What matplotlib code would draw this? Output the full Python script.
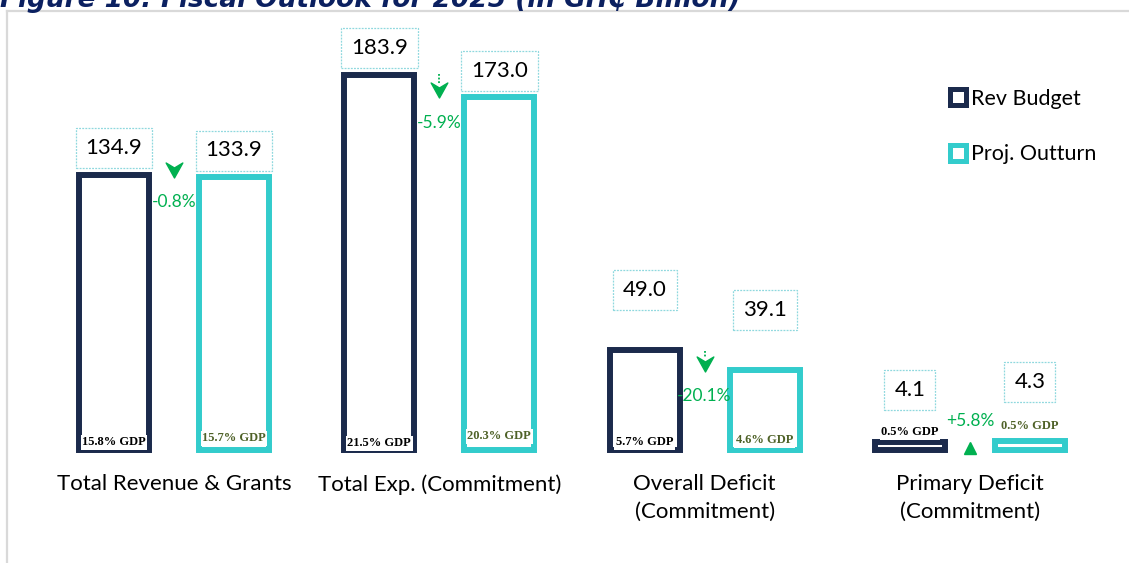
import matplotlib
matplotlib.use("Agg")
import matplotlib.pyplot as plt
from matplotlib.path import Path
from matplotlib.lines import Line2D
import numpy as np

# ---------------- data ----------------
categories = ["Total Revenue & Grants", "Total Exp. (Commitment)",
              "Overall Deficit\n(Commitment)", "Primary Deficit\n(Commitment)"]
rev_budget = [134.9, 183.9, 49.0, 4.1]
proj_outturn = [133.9, 173.0, 39.1, 4.3]
gdp_budget = ["15.8% GDP", "21.5% GDP", "5.7% GDP", "0.5% GDP"]
gdp_outturn = ["15.7% GDP", "20.3% GDP", "4.6% GDP", "0.5% GDP"]
changes = ["-0.8%", "-5.9%", "-20.1%", "+5.8%"]
series_names = ["Rev Budget", "Proj. Outturn"]
title = "Figure 10: Fiscal Outlook for 2025 (in GH\u20b5 Billion)"

# ---------------- style ----------------
NAVY = "#1B2A4C"
CYAN = "#33CCCC"
GREEN = "#00B050"
OLIVE = "#4F6228"
BOXC = "#8FD8DE"
FONT = "Lato"

W, H = 1129, 563
fig = plt.figure(figsize=(W / 100, H / 100), dpi=100)
ax = fig.add_axes([0, 0, 1, 1])

# pixel -> data mapping (layout helpers)
X0, XS = 174.0, 265.3      # group 0 center px, px per group
Y0, YS = 450.0, 2.04       # baseline px, px per unit
def dx(px): return (px - X0) / XS
def dy(py): return (Y0 - py) / YS

ax.set_xlim(dx(0), dx(W))
ax.set_ylim(dy(H), dy(0))
ax.axis("off")

x = np.arange(len(categories))
off = 60 / XS
bw = 70 / XS
lw = 4.3

ax.bar(x - off, rev_budget, width=bw, fill=False, edgecolor=NAVY, linewidth=lw,
       joinstyle="miter", zorder=2)
ax.bar(x + off, proj_outturn, width=bw, fill=False, edgecolor=CYAN, linewidth=lw,
       joinstyle="miter", zorder=2)

# value label boxes (layout: y centre in px)
val_y_px_b = [148, 48, 290, 390]
val_y_px_o = [150.5, 71, 310, 382]
for i in range(len(categories)):
    for xv, v, ypx in ((x[i] - off, rev_budget[i], val_y_px_b[i]),
                       (x[i] + off, proj_outturn[i], val_y_px_o[i])):
        ax.text(xv, dy(ypx), f"{v:.1f}", ha="center", va="center", fontsize=16,
                family=FONT, color="black", zorder=5,
                bbox=dict(boxstyle="square,pad=0.45", fc="white", ec=BOXC,
                          lw=0.9, ls=(0, (1.5, 1))))

# GDP labels (layout: y centre in px)
gdp_y_px_b = [442, 443, 442, 432]
gdp_y_px_o = [438, 436, 440, 426]
for i in range(len(categories)):
    ax.text(x[i] - off, dy(gdp_y_px_b[i]), gdp_budget[i], ha="center", va="center",
            fontsize=9, family="Liberation Serif", weight="bold", color="black",
            zorder=4, bbox=dict(boxstyle="square,pad=0.12", fc="white", ec="none"))
    ax.text(x[i] + off, dy(gdp_y_px_o[i]), gdp_outturn[i], ha="center", va="center",
            fontsize=9, family="Liberation Serif", weight="bold", color=OLIVE,
            zorder=4, bbox=dict(boxstyle="square,pad=0.12", fc="white", ec="none"))

# change annotations
chg_y_px = [202, 123, 396, 421]
for i in range(len(categories)):
    ax.text(x[i], dy(chg_y_px[i]), changes[i], ha="center", va="center",
            fontsize=12.5, family=FONT, color=GREEN, zorder=6)

head = Path([(-1, 0.9), (0, 0.3), (1, 0.9), (0, -0.9), (-1, 0.9)],
            [Path.MOVETO, Path.LINETO, Path.LINETO, Path.LINETO, Path.CLOSEPOLY])
arrow_head_px = [169.5, 90, 364]
arrow_shaft_px = [None, (74, 84), (351, 358)]
for i in range(3):
    ax.plot([x[i]], [dy(arrow_head_px[i])], marker=head, markersize=12,
            color=GREEN, mec=GREEN, zorder=6)
    if arrow_shaft_px[i] is not None:
        a, b = arrow_shaft_px[i]
        ax.plot([x[i], x[i]], [dy(a), dy(b)], ls=(0, (1, 1)), lw=1.3,
                color=GREEN, zorder=6)
ax.plot([x[3]], [dy(447.5)], marker="^", markersize=8, color=GREEN, zorder=6)

# category labels
for i, c in enumerate(categories):
    ax.text(x[i], dy(474), c, ha="center", va="top", fontsize=16, family=FONT,
            color="black", linespacing=1.5)

# legend
leg_handles = [Line2D([], [], ls="none", marker="s", markersize=11.5, mfc="white",
                      mec=NAVY, mew=3.6),
               Line2D([], [], ls="none", marker="s", markersize=11.5, mfc="white",
                      mec=CYAN, mew=3.6)]
fig.legend(leg_handles, series_names, loc="upper left",
           bbox_to_anchor=(943 / W, 1 - 80 / H), frameon=False,
           prop=dict(family=FONT, size=15.5), labelspacing=1.65,
           handlelength=0.6, handletextpad=0.3, borderaxespad=0)

# frame (light grey border, partially cropped)
fig.add_artist(Line2D([7 / W, 7 / W], [0, 1 - 11 / H], color="#D9D9D9", lw=1.6,
                      transform=fig.transFigure))
fig.add_artist(Line2D([7 / W, 1], [1 - 11 / H, 1 - 11 / H], color="#D9D9D9", lw=1.6,
                      transform=fig.transFigure))

# title (cropped at top, as in the reference)
fig.text(0.0, 1 - 7 / H, title, ha="left", va="baseline", fontsize=19,
         family="DejaVu Sans", weight="bold", style="italic", color="#0B2060")

fig.savefig("out.png", dpi=100, facecolor="white")
